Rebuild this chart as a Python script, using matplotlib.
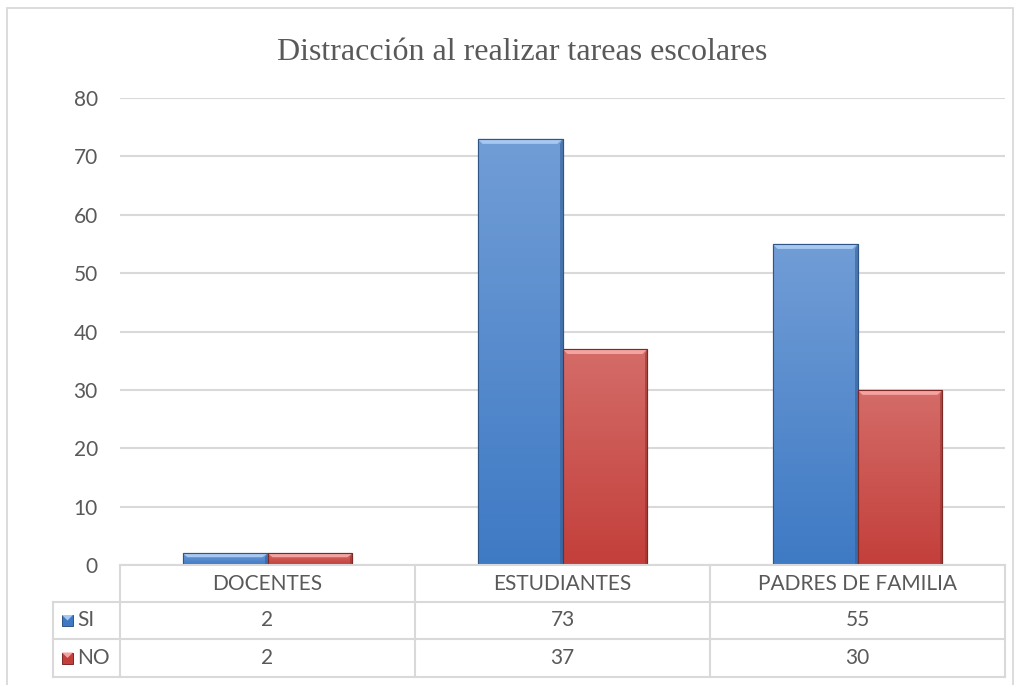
import matplotlib
matplotlib.use('Agg')
import matplotlib.pyplot as plt
import numpy as np
from matplotlib.patches import Rectangle, Polygon
from matplotlib.colors import LinearSegmentedColormap
import matplotlib.transforms as mtransforms

# ---- data ----
categories = ['DOCENTES', 'ESTUDIANTES', 'PADRES DE FAMILIA']
series_names = ['SI', 'NO']
si_values = [2, 73, 55]
no_values = [2, 37, 30]
chart_title = 'Distracción al realizar tareas escolares'
y_ticks = [0, 10, 20, 30, 40, 50, 60, 70, 80]

W, H = 1021, 685
fig = plt.figure(figsize=(W / 100, H / 100), dpi=100)
fig.patch.set_facecolor('white')

# outer chart border
fig.add_artist(Rectangle((7 / W, -0.01), (1013 - 7) / W, 1 - 8 / H + 0.01,
                         transform=fig.transFigure, fill=False,
                         edgecolor='#d9d9d9', linewidth=1.3))

ax = fig.add_axes([120 / W, 120 / H, 885 / W, 467 / H])
ax.set_xlim(-0.5, len(categories) - 0.5)
ax.set_ylim(0, 80)
ax.set_yticks(y_ticks)
ax.set_xticks([])
for s in ax.spines.values():
    s.set_visible(False)
ax.yaxis.grid(True, color='#d9d9d9', linewidth=1.5)
ax.set_axisbelow(True)
ax.tick_params(axis='y', length=0, pad=16, labelsize=15, labelcolor='#595959')
for lbl in ax.get_yticklabels():
    lbl.set_fontfamily('Lato')

fig.text(522 / W, 1 - 52 / H, chart_title, ha='center', va='center',
         fontsize=23, color='#595959', family='Liberation Serif')

x = np.arange(len(categories))
w = 0.288

styles = {
    'SI': dict(top='#719dd6', bottom='#3e7ac4', edge='#2f5687', bevel='#a6c8f1', dark='#345f96'),
    'NO': dict(top='#d46c68', bottom='#c33f3b', edge='#7f2926', bevel='#f4a3a0', dark='#973330'),
}

bevel_px = 5
dy_per_px = 80 / 467
dx_per_px = 3 / 885


def fancy_bars(xpos, vals, st):
    bars = ax.bar(xpos, vals, w, color=st['bottom'], edgecolor=st['edge'],
                  linewidth=0.8, zorder=2)
    cmap = LinearSegmentedColormap.from_list('g', [st['bottom'], st['top']])
    for b in bars:
        x0, bw, h = b.get_x(), b.get_width(), b.get_height()
        grad = np.linspace(0, 1, 100).reshape(-1, 1)
        im = ax.imshow(grad, extent=[x0, x0 + bw, 0, h], origin='lower',
                       aspect='auto', cmap=cmap, zorder=2.5)
        im.set_clip_path(b)
        bh = min(bevel_px * dy_per_px, h / 3)
        bx = bevel_px * dx_per_px
        ax.add_patch(Polygon([(x0, h), (x0 + bw, h), (x0 + bw - bx, h - bh), (x0 + bx, h - bh)],
                             closed=True, facecolor=st['bevel'], edgecolor='none', zorder=3))
        ax.add_patch(Polygon([(x0 + bw, h), (x0 + bw, 0), (x0 + bw - bx * 0.5, 0), (x0 + bw - bx * 0.5, h - bh)],
                             closed=True, facecolor=st['dark'], edgecolor='none', alpha=0.6, zorder=3))
        ax.add_patch(Rectangle((x0, 0), bw, h, fill=False, edgecolor=st['edge'],
                               linewidth=0.8, zorder=3.5))
    return bars


fancy_bars(x - w / 2, si_values, styles['SI'])
fancy_bars(x + w / 2, no_values, styles['NO'])
ax.set_xlim(-0.5, len(categories) - 0.5)
ax.set_ylim(0, 80)

# ---- data table below ----
bt = mtransforms.blended_transform_factory(ax.transData, fig.transFigure)
tf = fig.transFigure
line_c = '#d9d9d9'
lw = 1.5


def fy(py):
    return 1 - py / H


row_y = [565, 602, 639, 677]
legend_left_px = 53
legend_left = ax.transData.inverted().transform(
    fig.transFigure.transform((legend_left_px / W, 0)))[0]

# horizontal lines
fig.add_artist(plt.Line2D([-0.5, 2.5], [fy(row_y[0])] * 2, transform=bt, color=line_c, lw=lw))
for py in row_y[1:]:
    fig.add_artist(plt.Line2D([legend_left, 2.5], [fy(py)] * 2, transform=bt, color=line_c, lw=lw))
# vertical lines
for xb in [-0.5, 0.5, 1.5, 2.5]:
    fig.add_artist(plt.Line2D([xb, xb], [fy(row_y[0]), fy(row_y[3])], transform=bt, color=line_c, lw=lw))
fig.add_artist(plt.Line2D([legend_left, legend_left], [fy(row_y[1]), fy(row_y[3])], transform=bt,
                          color=line_c, lw=lw))

txt_kw = dict(fontsize=15, color='#595959', family='Lato', ha='center', va='center')
for i, c in enumerate(categories):
    fig.text(i, fy((row_y[0] + row_y[1]) / 2), c, transform=bt, **txt_kw)
for r, (name, vals) in enumerate(zip(series_names, [si_values, no_values])):
    yc = fy((row_y[r + 1] + row_y[r + 2]) / 2)
    for i, v in enumerate(vals):
        fig.text(i, yc, str(v), transform=bt, **txt_kw)
    st = styles[name]
    # legend key
    kx, ks = 62 / W, 11
    fig.add_artist(Rectangle((kx, yc - ks / 2 / H), ks / W, ks / H, transform=tf,
                             facecolor=st['bottom'], edgecolor=st['edge'], lw=0.7))
    fig.add_artist(Polygon([(kx, yc + ks / 2 / H), (kx + ks / W, yc + ks / 2 / H),
                            (kx + 0.5 * ks / W, yc)], closed=True, transform=tf,
                           facecolor=st['bevel'], edgecolor='none'))
    fig.text(77 / W, yc, name, transform=tf, fontsize=15, color='#595959',
             family='Lato', ha='left', va='center')

fig.savefig('out.png', dpi=100, facecolor='white')
